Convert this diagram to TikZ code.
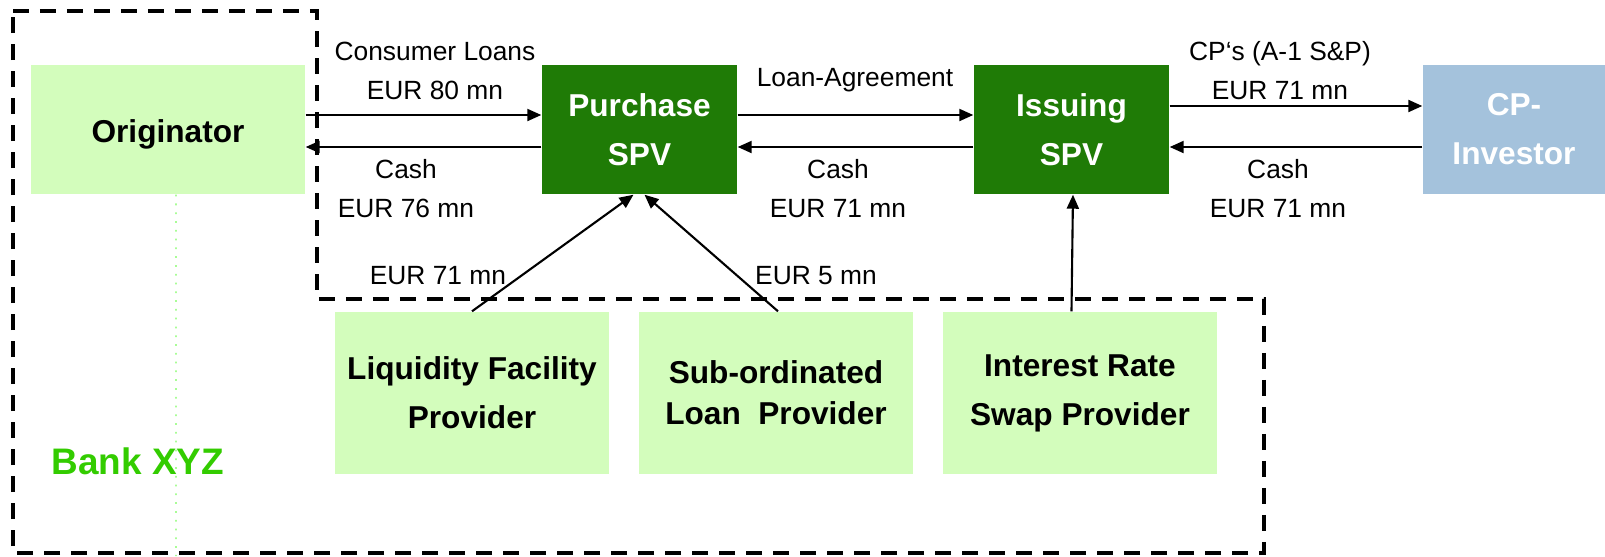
\documentclass[tikz,border=0pt]{standalone}
\usepackage{fontspec}
\setmainfont{Liberation Sans}
\usepackage{xcolor}
\usetikzlibrary{arrows.meta}
\usetikzlibrary{positioning}
\definecolor{palegreen}{RGB}{211,253,188}
\definecolor{spvgreen}{RGB}{31,123,6}
\definecolor{investblue}{RGB}{164,194,220}
\definecolor{bankgreen}{RGB}{51,204,0}
\tikzset{
	partybox/.style={rectangle, fill=palegreen, minimum width=27.4mm, minimum height=12.9mm, inner sep=0pt, align=center, font=\bfseries\fontsize{9}{14}\selectfont},
	spvbox/.style={partybox, fill=spvgreen, text=white, minimum width=19.5mm},
	providerbox/.style={partybox, minimum height=16.2mm},
	flowlabel/.style={align=center, inner sep=0pt, font=\fontsize{7.5}{11.1}\selectfont},
	flowarrow/.style={line width=0.6pt, -{Triangle[length=1.4mm, width=1.2mm]}},
}

\begin{document}
\begin{tikzpicture}[x=0.1mm, y=-0.1mm]
				\useasboundingbox (0,0) rectangle (1605,556);
				\draw[line width=1.2pt, dash pattern=on 1.6mm off 1.1mm] (13,11) -- (317,11) -- (317,299) -- (1264,299) -- (1264,553) -- (13,553) -- cycle;
		
				\node[partybox, text height=2.6mm, text depth=0pt] (orig) at (168,129.5) {Originator};
				\node[spvbox] (purch) at (639.5,129.5) {Purchase\\SPV};
				\node[spvbox] (issue) at (1071.5,129.5) {Issuing\\SPV};
				\node[spvbox, fill=investblue, minimum width=18.2mm] (invest) at (1514,129.5) {CP-\\Investor};
		
				\node[providerbox] (liq) at (472,393) {Liquidity Facility\\Provider};
				\node[providerbox] (sub) at (776,393) {Sub-ordinated\\[-2.4pt]Loan~~Provider};
				\node[providerbox] (swap) at (1080,393) {Interest Rate\\Swap Provider};
		
				\node[anchor=west, inner sep=0pt, text=bankgreen, font=\bfseries\fontsize{10.5}{12}\selectfont] (bank) at (51,461) {Bank XYZ};
				\coordinate (dotend) at (176,556);
				\draw[palegreen!80!green, dotted, line width=0.5pt] ([xshift=0.8mm]orig.south) -- (dotend);
		
				\draw[flowarrow] ([yshift=1.45mm]orig.east) -- ([yshift=1.45mm]purch.west);
				\draw[flowarrow] ([yshift=-1.75mm]purch.west) -- ([yshift=-1.75mm]orig.east);
				\draw[flowarrow] ([yshift=1.45mm]purch.east) -- ([yshift=1.45mm]issue.west);
				\draw[flowarrow] ([yshift=-1.75mm]issue.west) -- ([yshift=-1.75mm]purch.east);
				\draw[flowarrow] ([yshift=2.35mm]issue.east) -- ([yshift=2.35mm]invest.west);
				\draw[flowarrow] ([yshift=-1.75mm]invest.west) -- ([yshift=-1.75mm]issue.east);
		
				\draw[flowarrow] (liq.north) -- ([xshift=-0.6mm]purch.south);
				\draw[flowarrow] ([xshift=0.2mm]sub.north) -- ([xshift=0.5mm]purch.south);
				\draw[flowarrow] (issue.south |- swap.north) -- ([xshift=0.15mm]issue.south);
		
				\node[flowlabel] (loanslbl) at (435,70.5) {Consumer Loans\\EUR 80 mn};
				\node[flowlabel] (cashlbl1) at (406,188.5) {Cash\\EUR 76 mn};
				\node[flowlabel] (liqlbl) at (438,276) {EUR 71 mn};
				\node[flowlabel] (agreelbl) at (855,80) {Loan-Agreement};
				\node[flowlabel] (cashlbl2) at (838,188.5) {Cash\\EUR 71 mn};
				\node[flowlabel] (sublbl) at (816,276) {EUR 5 mn};
				\node[flowlabel] (cplbl) at (1280,70.5) {CP‘s (A-1 S\&P)\\EUR 71 mn};
				\node[flowlabel] (cashlbl3) at (1278,188.5) {Cash\\EUR 71 mn};
			\end{tikzpicture}
\end{document}
